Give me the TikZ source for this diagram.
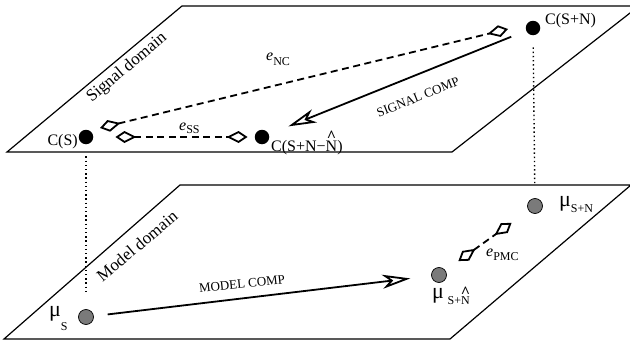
\documentclass[tikz,border=0pt]{standalone}
\usepackage{fontspec}
\setmainfont{Liberation Serif}
\usetikzlibrary{arrows.meta}
\newcommand\lsub[2][5pt]{\raisebox{-#1}{\fontsize{12}{12}\selectfont #2}}
\newcommand\bighat[2][0.62em]{\ooalign{#2\cr\hidewidth\raisebox{#1}{\fontsize{16}{16}\selectfont\bfseries\textasciicircum}\hidewidth\cr}}
\tikzset{
  plane/.style={line width=1.2pt, black},
  bdot/.style={circle, fill=black, inner sep=0pt, minimum size=14.5pt},
  gdot/.style={circle, fill=black!52, draw=black, line width=0.7pt, inner sep=0pt, minimum size=15pt},
  lbl/.style={inner sep=0pt, font=\fontsize{16}{16}\selectfont},
  mulbl/.style={inner sep=0pt, font=\fontsize{22}{22}\selectfont},
  complbl/.style={inner sep=0pt, font=\fontsize{13}{13}\selectfont},
  domlbl/.style={inner sep=0pt, font=\fontsize{17}{17}\selectfont, rotate=40},
  dotline/.style={line width=1.4pt, dash pattern=on 1.4pt off 2.8pt},
  errline/.style={line width=1.8pt, dash pattern=on 7pt off 4.5pt,
    {Kite[open, length=21pt, width=12pt, inset=12pt, fill=white]}-{Kite[open, length=21pt, width=12pt, inset=12pt, fill=white]}},
  compline/.style={line width=1.8pt, -{Stealth[open, length=28pt, width=14pt, inset=8pt, fill=white]}}
}
\begin{document}
\begin{tikzpicture}[x=1pt, y=-1pt]
\useasboundingbox (0,0) rectangle (630,348);
\clip (0,0) rectangle (630,348);
% planes
\draw[plane] (7,152) -- (452,152) -- (639,6) -- (182,6) -- cycle;
\draw[plane] (4,339) -- (450,339) -- (631,185) -- (180,185) -- cycle;
% domain labels
\node[domlbl] (sd) at (127,68) {Signal domain};
\node[domlbl] (md) at (137,246) {Model domain};
% dots
\node[bdot] (cs) at (86,137) {};
\node[bdot] (csnn) at (262,137) {};
\node[bdot] (csn) at (533,28) {};
\node[gdot] (ms) at (86,317) {};
\node[gdot] (mshat) at (439,275) {};
\node[gdot] (msn) at (535,206) {};
% dotted vertical links
\draw[dotline, shorten <=12pt, shorten >=15pt] (cs) -- (ms);
\draw[dotline, shorten <=12pt, shorten >=14pt] (csn) -- (msn);
% labels of points
\node[lbl, anchor=base east] (lcs) at (78,145) {C(S)};
\node[lbl, anchor=base west] (lcsn) at (545,24) {C(S+N)};
\node[lbl, anchor=base west] (lcsnn) at (271,151) {C(S+N−\bighat{N})};
\node[mulbl, anchor=base west] (lms) at (49,316) {μ\lsub[14pt]{S}};
\node[mulbl, anchor=base west] (lmsn) at (559,206) {μ\lsub[6pt]{S+N}};
\node[mulbl, anchor=base west] (lmshat) at (432,298) {μ\,\lsub[6pt]{S+\bighat[0.55em]{N}}};
% error lines
\draw[errline] ([shift={(14pt,9pt)}]cs.center) -- ([shift={(-25pt,-1pt)}]csn.center);
\draw[errline, shorten <=22pt, shorten >=7pt] (cs) -- (csnn);
\draw[errline, shorten <=16pt, shorten >=21pt] (mshat) -- (msn);
\node[lbl, anchor=base west] (enc) at (266,60) {\itshape e\upshape\lsub[5pt]{NC}};
\node[lbl, anchor=base west] (ess) at (179,130) {\itshape e\upshape\lsub[3.5pt]{SS}};
\node[lbl, anchor=base west] (epmc) at (486,256) {\itshape e\upshape\lsub[4pt]{PMC}};
% comparison arrows
\draw[compline, shorten <=16pt, shorten >=21pt] (csn) -- (csnn);
\draw[compline, shorten <=14pt, shorten >=21pt] (ms) -- (mshat);
\node[complbl, rotate=22] (sc) at (418,97) {SIGNAL COMP};
\node[complbl, rotate=6] (mc) at (242,284) {MODEL COMP};
\end{tikzpicture}
\end{document}
